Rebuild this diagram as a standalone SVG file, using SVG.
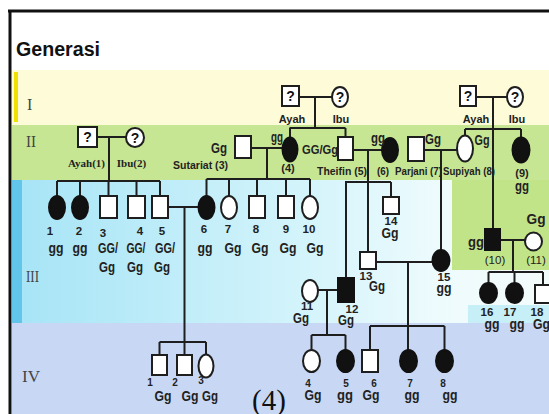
<svg xmlns="http://www.w3.org/2000/svg" width="549" height="414" viewBox="0 0 549 414">
<defs>
<linearGradient id="b3" x1="0" y1="0" x2="1" y2="0">
<stop offset="0" stop-color="#a6e4f6"/>
<stop offset="0.55" stop-color="#d4f4fb"/>
<stop offset="0.8" stop-color="#eefbfd"/>
<stop offset="1" stop-color="#f4fbfb"/>
</linearGradient>
<style>
.ln{stroke:#1e1e1e;stroke-width:2;fill:none}
.w{fill:#fff;stroke:#1e1e1e;stroke-width:2}
.f{fill:#111;stroke:#111;stroke-width:2}
text{font-family:"Liberation Sans",Arial,sans-serif;font-weight:bold;fill:#222}
.g{font-size:14px;text-anchor:middle}
.n{font-size:11.5px;text-anchor:middle}
.sn{font-size:10px;text-anchor:middle}
.q{font-size:14px;text-anchor:middle;fill:#111}
.nm{font-size:11px}
.sr{font-family:"Liberation Serif","Times New Roman",serif;font-size:11px;text-anchor:middle}
.rn{font-family:"Liberation Serif","Times New Roman",serif;font-weight:normal;font-size:16px;fill:#444}
</style>
</defs>
<g id="background">
<rect x="0" y="0" width="549" height="414" fill="#fff"/>
<rect x="12" y="70" width="537" height="55" fill="#fdfbd8"/>
<rect x="14" y="72" width="4" height="50" fill="#f0df00"/>
<rect x="12" y="125" width="537" height="55" fill="#c7e693"/>
<rect x="12" y="180" width="537" height="143" fill="url(#b3)"/>
<rect x="452" y="180" width="97" height="90" fill="#c2e488"/>
<rect x="468" y="305" width="81" height="18" fill="#c6eff8"/>
<rect x="12" y="180" width="10" height="143" fill="#62c6ea"/>
<rect x="12" y="323" width="537" height="91" fill="#c8d8f4"/>
<line x1="8" y1="11" x2="549" y2="11" stroke="#111" stroke-width="3"/>
<line x1="10" y1="10" x2="10" y2="414" stroke="#111" stroke-width="3"/>
<text x="16" y="56" font-size="20" textLength="84" lengthAdjust="spacingAndGlyphs" style="fill:#111">Generasi</text>
<text class="rn" x="27" y="110">I</text>
<text class="rn" x="26" y="147" textLength="10" lengthAdjust="spacingAndGlyphs">II</text>
<text class="rn" x="26" y="282" textLength="13" lengthAdjust="spacingAndGlyphs">III</text>
<text class="rn" x="22" y="382" textLength="18" lengthAdjust="spacingAndGlyphs">IV</text>
<text x="252" y="410" font-size="29" style="font-family:'Liberation Serif','Times New Roman',serif;font-weight:normal;fill:#111">(4)</text>
</g>
<g id="connectors" class="ln">
<path d="M299 97H332M315 97V128M289.5 128H345.5M290 128V137.5M345.5 128V137"/>
<path d="M476 97H507M493 97V229M465 129H521M465 129V135.5M521 129V137.5"/>
<path d="M97 137H126M109 137V181M57 181H160M57 181V196M80 181V196M108.5 181V196M136.5 181V196M160 181V196"/>
<path d="M251 148H282.5M267 148V179M206.5 179H310M206.5 179V196M229 179V196M257 179V196M286 179V196M310 179V196"/>
<path d="M353 150H382M368 150V252M345 182H391M346 182V278M391 182V197"/>
<path d="M424 150H457M441 150V250"/>
<path d="M376 262H432.5M408 262V350M370 326H444.5M370 326V350M444.5 326V350"/>
<path d="M318 290H338M327 290V335M311.5 335H345.5M311.5 335V350M345.5 335V350"/>
<path d="M168 207H198.5M184.5 207V355M159.5 342H206M159.5 342V355M206 342V354.5"/>
<path d="M500 240H525M513 240V272M488.5 272H543M488.5 272V283M514.5 272V283M543 272V285"/>
</g>
<g id="I-ayah-1"><rect class="w" x="282" y="86" width="17" height="20"/><text class="q" x="290.5" y="101">?</text><text class="nm" x="292" y="123" text-anchor="middle">Ayah</text></g>
<g id="I-ibu-1"><ellipse class="w" cx="340" cy="97" rx="8" ry="10"/><text class="q" x="340" y="102">?</text><text class="nm" x="341" y="123" text-anchor="middle">Ibu</text></g>
<g id="I-ayah-2"><rect class="w" x="460" y="86" width="16" height="20"/><text class="q" x="468" y="101">?</text><text class="nm" x="476" y="123" text-anchor="middle">Ayah</text></g>
<g id="I-ibu-2"><ellipse class="w" cx="515" cy="97" rx="8" ry="10"/><text class="q" x="515" y="102">?</text><text class="nm" x="517" y="123" text-anchor="middle">Ibu</text></g>
<g id="II-1"><rect class="w" x="78" y="127" width="19" height="20"/><text class="q" x="87.5" y="142">?</text><text class="sr" x="86.5" y="167">Ayah(1)</text></g>
<g id="II-2"><ellipse class="w" cx="135" cy="137.5" rx="9" ry="9.5"/><text class="q" x="135" y="142.5">?</text><text class="sr" x="131.5" y="167">Ibu(2)</text></g>
<g id="II-3"><rect class="w" x="235" y="136" width="16" height="22"/><text class="g" x="219" y="153" textLength="16" lengthAdjust="spacingAndGlyphs">Gg</text><text class="nm" x="173" y="169" textLength="55" lengthAdjust="spacingAndGlyphs">Sutariat (3)</text></g>
<g id="II-4"><ellipse class="f" cx="290" cy="149.5" rx="7.5" ry="12"/><text class="g" x="277" y="142" textLength="12" lengthAdjust="spacingAndGlyphs">gg</text><text class="nm" x="288" y="172" text-anchor="middle">(4)</text><text x="302" y="154" font-size="13" textLength="36" lengthAdjust="spacingAndGlyphs">GG/Gg</text></g>
<g id="II-5"><rect class="w" x="338" y="137" width="15" height="23"/><text class="nm" x="317" y="175" textLength="50" lengthAdjust="spacingAndGlyphs">Theifin (5)</text></g>
<g id="II-6"><ellipse class="f" cx="390" cy="150" rx="8" ry="12"/><text class="g" x="378" y="143" textLength="14" lengthAdjust="spacingAndGlyphs">gg</text><text class="nm" x="377" y="175" textLength="12" lengthAdjust="spacingAndGlyphs">(6)</text></g>
<g id="II-7"><rect class="w" x="408" y="137" width="16" height="24"/><text class="g" x="433" y="144" textLength="16" lengthAdjust="spacingAndGlyphs">Gg</text><text class="nm" x="395" y="175" textLength="47" lengthAdjust="spacingAndGlyphs">Parjani (7)</text></g>
<g id="II-8"><ellipse class="w" cx="465" cy="148.5" rx="8" ry="13"/><text class="g" x="482" y="145" textLength="15" lengthAdjust="spacingAndGlyphs">Gg</text><text class="nm" x="443" y="175" textLength="52" lengthAdjust="spacingAndGlyphs">Supiyah (8)</text></g>
<g id="II-9"><ellipse class="f" cx="521" cy="150" rx="8.5" ry="12.5"/><text class="nm" x="522" y="177" text-anchor="middle">(9)</text><text class="g" x="522" y="191" textLength="14" lengthAdjust="spacingAndGlyphs">gg</text></g>
<g id="III-1"><ellipse class="f" cx="57" cy="207.5" rx="8" ry="11.5"/><text class="n" x="50" y="235">1</text><text class="g" x="56" y="253" textLength="15" lengthAdjust="spacingAndGlyphs">gg</text></g>
<g id="III-2"><ellipse class="f" cx="80" cy="207.5" rx="8" ry="11.5"/><text class="n" x="79" y="235">2</text><text class="g" x="80" y="253" textLength="15" lengthAdjust="spacingAndGlyphs">gg</text></g>
<g id="III-3"><rect class="w" x="100" y="196" width="17" height="22"/><text class="n" x="103" y="237">3</text><text class="g" x="108" y="253" textLength="20" lengthAdjust="spacingAndGlyphs">GG/</text><text class="g" x="107" y="272" textLength="16" lengthAdjust="spacingAndGlyphs">Gg</text></g>
<g id="III-4"><rect class="w" x="128" y="196" width="17" height="22"/><text class="n" x="140" y="235">4</text><text class="g" x="136" y="253" textLength="19" lengthAdjust="spacingAndGlyphs">GG/</text><text class="g" x="135" y="272" textLength="16" lengthAdjust="spacingAndGlyphs">Gg</text></g>
<g id="III-5"><rect class="w" x="152" y="196" width="16" height="22"/><text class="n" x="162" y="235">5</text><text class="g" x="165" y="253" textLength="20" lengthAdjust="spacingAndGlyphs">GG/</text><text class="g" x="162" y="272" textLength="16" lengthAdjust="spacingAndGlyphs">Gg</text></g>
<g id="III-6"><ellipse class="f" cx="206.5" cy="207.5" rx="8" ry="11.5"/><text class="n" x="204" y="233">6</text><text class="g" x="205" y="253" textLength="15" lengthAdjust="spacingAndGlyphs">gg</text></g>
<g id="III-7"><ellipse class="w" cx="229" cy="207.5" rx="8" ry="11.5"/><text class="n" x="228" y="233">7</text><text class="g" x="233" y="253" textLength="17" lengthAdjust="spacingAndGlyphs">Gg</text></g>
<g id="III-8"><rect class="w" x="249" y="196" width="16" height="22"/><text class="n" x="256" y="233">8</text><text class="g" x="260" y="253" textLength="17" lengthAdjust="spacingAndGlyphs">Gg</text></g>
<g id="III-9"><rect class="w" x="278" y="196" width="16" height="22"/><text class="n" x="286" y="233">9</text><text class="g" x="288" y="253" textLength="17" lengthAdjust="spacingAndGlyphs">Gg</text></g>
<g id="III-10"><ellipse class="w" cx="310" cy="207.5" rx="8" ry="11.5"/><text class="n" x="309" y="233">10</text><text class="g" x="315" y="253" textLength="17" lengthAdjust="spacingAndGlyphs">Gg</text></g>
<g id="III-14"><rect class="w" x="383" y="197" width="16" height="17"/><text class="n" x="391" y="225">14</text><text class="g" x="390" y="238" textLength="17" lengthAdjust="spacingAndGlyphs">Gg</text></g>
<g id="III-13"><rect class="w" x="360" y="252" width="16" height="17"/><text class="n" x="366" y="280">13</text><text class="g" x="377" y="291" textLength="16" lengthAdjust="spacingAndGlyphs">Gg</text></g>
<g id="III-15"><ellipse class="f" cx="441" cy="260.5" rx="8.5" ry="10.5"/><text class="n" x="444" y="281">15</text><text class="g" x="444" y="293" textLength="15" lengthAdjust="spacingAndGlyphs">gg</text></g>
<g id="III-11"><ellipse class="w" cx="310" cy="291" rx="8" ry="11"/><text class="n" x="307" y="310">11</text><text class="g" x="301" y="323" textLength="16" lengthAdjust="spacingAndGlyphs">Gg</text></g>
<g id="III-12"><rect class="f" x="338" y="278" width="16" height="24"/><text class="n" x="352" y="313">12</text><text class="g" x="346" y="325" textLength="16" lengthAdjust="spacingAndGlyphs">Gg</text></g>
<g id="III-10r"><rect class="f" x="485" y="229" width="15" height="21"/><text class="g" x="476" y="247" textLength="16" lengthAdjust="spacingAndGlyphs">gg</text><text class="n" x="495" y="264" style="font-weight:normal">(10)</text></g>
<g id="III-11r"><ellipse class="w" cx="533.5" cy="241.5" rx="8.5" ry="9"/><text class="g" x="536" y="224" textLength="19" lengthAdjust="spacingAndGlyphs">Gg</text><text class="n" x="536" y="264" style="font-weight:normal">(11)</text></g>
<g id="III-16"><ellipse class="f" cx="488.5" cy="293" rx="8.5" ry="10"/><text class="n" x="487" y="316">16</text><text class="g" x="492" y="329" textLength="15" lengthAdjust="spacingAndGlyphs">gg</text></g>
<g id="III-17"><ellipse class="f" cx="514.5" cy="293" rx="8.5" ry="10"/><text class="n" x="510" y="316">17</text><text class="g" x="517" y="329" textLength="15" lengthAdjust="spacingAndGlyphs">gg</text></g>
<g id="III-18"><rect class="w" x="535" y="285" width="15" height="18"/><text class="n" x="537" y="316">18</text><text x="533" y="329" font-size="14" textLength="17" lengthAdjust="spacingAndGlyphs">Gg</text></g>
<g id="IV-1"><rect class="w" x="152" y="355" width="15" height="20"/><text class="sn" x="150" y="386">1</text><text class="g" x="163" y="401" textLength="17" lengthAdjust="spacingAndGlyphs">Gg</text></g>
<g id="IV-2"><rect class="w" x="177" y="355" width="15" height="20"/><text class="sn" x="175" y="386">2</text><text class="g" x="190" y="401" textLength="17" lengthAdjust="spacingAndGlyphs">Gg</text></g>
<g id="IV-3"><ellipse class="w" cx="206" cy="366" rx="7.5" ry="11.5"/><text class="sn" x="201" y="384">3</text><text class="g" x="210" y="401" textLength="16" lengthAdjust="spacingAndGlyphs">Gg</text></g>
<g id="IV-4"><ellipse class="w" cx="311.5" cy="361" rx="8.5" ry="11"/><text class="sn" x="308" y="387">4</text><text class="g" x="313" y="400" textLength="17" lengthAdjust="spacingAndGlyphs">Gg</text></g>
<g id="IV-5"><ellipse class="f" cx="345.5" cy="361" rx="8.5" ry="11"/><text class="sn" x="346" y="387">5</text><text class="g" x="345" y="400" textLength="16" lengthAdjust="spacingAndGlyphs">gg</text></g>
<g id="IV-6"><rect class="w" x="362" y="350" width="16" height="22"/><text class="sn" x="374" y="387">6</text><text class="g" x="371" y="400" textLength="17" lengthAdjust="spacingAndGlyphs">Gg</text></g>
<g id="IV-7"><ellipse class="f" cx="408.5" cy="361" rx="8.5" ry="11"/><text class="sn" x="410" y="387">7</text><text class="g" x="412" y="400" textLength="15" lengthAdjust="spacingAndGlyphs">gg</text></g>
<g id="IV-8"><ellipse class="f" cx="444.5" cy="361" rx="8.5" ry="11"/><text class="sn" x="443" y="387">8</text><text class="g" x="450" y="400" textLength="15" lengthAdjust="spacingAndGlyphs">gg</text></g>
</svg>
